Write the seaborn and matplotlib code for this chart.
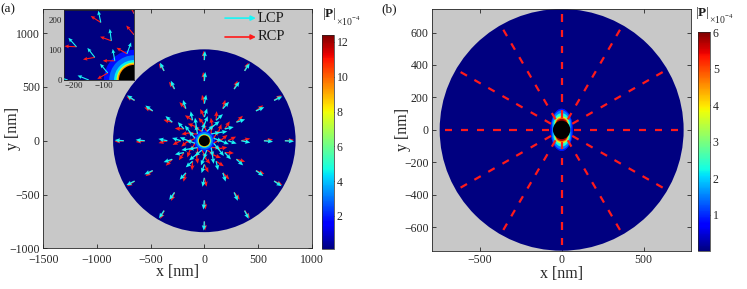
import numpy as np
import matplotlib
matplotlib.use("Agg")
import matplotlib.pyplot as plt
import seaborn as sns
from matplotlib.patches import Circle, Ellipse
from matplotlib.colors import Normalize
from matplotlib.cm import ScalarMappable
from matplotlib.collections import LineCollection

sns.set_style("ticks")
plt.rcParams['font.family'] = ['Liberation Serif', 'DejaVu Serif']
plt.rcParams['mathtext.fontset'] = 'custom'
plt.rcParams['mathtext.rm'] = 'Liberation Serif'
plt.rcParams['mathtext.bf'] = 'Liberation Serif:bold'

# ---------------- data ----------------
# panel (a): |P| field (x1e-4) as concentric rings around the particle
a_domain_radius = 850
a_particle_radius = 50
a_ring_radius = [100, 82, 66, 58, 54]
a_ring_value = [1.8, 3.0, 4.5, 7.5, 9.5]
a_vmin, a_vmax = 0.1, 12.4
a_cbar_ticks = [2, 4, 6, 8, 10, 12]

# panel (a): polarization arrows on rings (angles in deg, tilts rel. to radial)
a_angles = [0, 30, 60, 90, 120, 150, 180, 210, 240, 270, 300, 330]
a_arrow_radius = [90, 150, 220, 345, 555, 750]
a_arrow_phase = [15, 0, 0, 0, 0, 0]
a_lcp_tilt = [-35, -22, -18, -12, -6, -4]
a_rcp_tilt = [45, 40, 27, 15, 8, 5]
a_arrow_len = 85
inset_arrow_len = 40

# panel (b): |P| field (x1e-4) as nested caps around the particle
b_domain_radius = 745
b_particle_rx, b_particle_ry = 53, 57
b_halo_value = [0.9, 1.5, 2.3, 3.6, 4.8, 5.8]
b_halo_cy = [0, 25, 35, 40, 40, 40]
b_halo_rx = [68, 60, 50, 42, 38, 33]
b_halo_ry = [130, 95, 68, 45, 35, 28]
b_vmin, b_vmax = 0.02, 6.0
b_cbar_ticks = [1, 2, 3, 4, 5, 6]

# panel (b): RCP arrows along spokes
b_angles = [0, 30, 60, 90, 120, 150, 180, 210, 240, 270, 300, 330]
b_arrow_radius = [97, 196, 298, 395, 495, 593, 690]
b_arrow_len = 45

cmap = plt.get_cmap('jet')
bg = '#c8c8c8'
frame = '#262626'
cyan = '#19f5f5'
red = '#ff1a1a'


def ring_arrows(radii, phases, tilts, length):
    x, y, u, v = [], [], [], []
    for r, ph, t in zip(radii, phases, tilts):
        for a in a_angles:
            th = np.deg2rad(a + ph)
            d = th + np.deg2rad(t)
            x.append(r * np.cos(th))
            y.append(r * np.sin(th))
            u.append(length * np.cos(d))
            v.append(length * np.sin(d))
    return x, y, u, v


def draw_field_a(ax, norm):
    ax.add_patch(Circle((0, 0), a_domain_radius, color=cmap(norm(a_vmin)), lw=0, zorder=1))
    for r, val in zip(a_ring_radius, a_ring_value):
        ax.add_patch(Circle((0, 0), r, color=cmap(norm(val)), lw=0, zorder=2))
    ax.add_patch(Circle((0, 0), a_particle_radius, color='black', lw=0, zorder=3))


def draw_arrows_a(ax, length, lw, head):
    xl, yl, ul, vl = ring_arrows(a_arrow_radius, a_arrow_phase, a_lcp_tilt, length)
    xr, yr, ur, vr = ring_arrows(a_arrow_radius, a_arrow_phase, a_rcp_tilt, length)
    kw = dict(angles='xy', scale_units='xy', scale=1, units='dots', width=lw,
              headwidth=head, headlength=head + 0.5, headaxislength=head, zorder=5)
    ax.quiver(xr, yr, ur, vr, color=red, **kw)
    ax.quiver(xl, yl, ul, vl, color=cyan, **kw)


def style_axes(ax, fs=8.5):
    ax.set_facecolor(bg)
    for s in ax.spines.values():
        s.set_color(frame)
        s.set_linewidth(0.6)
    ax.tick_params(direction='in', length=3, width=0.6, colors=frame, labelsize=fs,
                   top=True, right=True, pad=2.5)


fig = plt.figure(figsize=(7.47, 2.89), dpi=100)

# ---------------- panel (a) ----------------
norm_a = Normalize(a_vmin, a_vmax)
ax1 = fig.add_axes([43.3 / 747, 1 - 248.3 / 289, 268.4 / 747, 239.3 / 289])
style_axes(ax1)
draw_field_a(ax1, norm_a)
draw_arrows_a(ax1, a_arrow_len, 1.3, 3.5)
ax1.set_xlim(-1500, 1000)
ax1.set_ylim(-1000, 1225)
ax1.set_xticks([-1500, -1000, -500, 0, 500, 1000])
ax1.set_yticks([-1000, -500, 0, 500, 1000])
ax1.tick_params(axis='x', pad=4)
ax1.set_xlabel('x [nm]', fontsize=11.5, color=frame, va='center')
ax1.set_ylabel('y [nm]', fontsize=11.5, color=frame, va='center')
ax1.xaxis.set_label_coords(0.5, -0.1)
ax1.yaxis.set_label_coords(-0.112, 0.5)

# legend drawn as arrows with text
for yy, col, lab in [(0.962, cyan, 'LCP'), (0.883, red, 'RCP')]:
    ax1.annotate('', xy=(0.792, yy), xytext=(0.677, yy), xycoords='axes fraction',
                 arrowprops=dict(arrowstyle='-|>', color=col, lw=1.2, mutation_scale=7,
                                 shrinkA=0, shrinkB=0), zorder=6)
    ax1.text(0.800, yy, lab, transform=ax1.transAxes, fontsize=10.5, va='center',
             ha='left', color='#1a1a1a', zorder=6)

# inset
axi = fig.add_axes([64 / 747, 1 - 80 / 289, 70 / 747, 70 / 289])
style_axes(axi, fs=6.5)
draw_field_a(axi, norm_a)
draw_arrows_a(axi, inset_arrow_len, 1.1, 3.5)
axi.set_xlim(-232, 0)
axi.set_ylim(0, 232)
axi.set_xticks([-200, -100])
axi.set_yticks([0, 100, 200])
axi.tick_params(top=False, right=False, pad=1.5)

# colorbar (a)
cax1 = fig.add_axes([322 / 747, 1 - 249 / 289, 12 / 747, 214 / 289])
cb1 = fig.colorbar(ScalarMappable(norm_a, cmap), cax=cax1)
cb1.set_ticks(a_cbar_ticks)
cb1.outline.set_linewidth(0.5)
cb1.ax.tick_params(direction='in', length=2, width=0.5, labelsize=8.5, colors=frame, pad=2)
fig.text(322 / 747, 1 - 14 / 289, r'|$\mathbf{P}$|', fontsize=9.5, ha='left', va='center', color='#1a1a1a')
fig.text(336 / 747, 1 - 21 / 289, r'$\times$10$^{-4}$', fontsize=7, ha='left', va='center', color=frame)

# ---------------- panel (b) ----------------
norm_b = Normalize(b_vmin, b_vmax)
ax2 = fig.add_axes([432.3 / 747, 1 - 250.7 / 289, 258.7 / 747, 241.7 / 289])
style_axes(ax2)
ax2.add_patch(Circle((0, 0), b_domain_radius, color=cmap(norm_b(b_vmin)), lw=0, zorder=1))
for val, cy, rx, ry in zip(b_halo_value, b_halo_cy, b_halo_rx, b_halo_ry):
    for sgn in (1, -1):
        ax2.add_patch(Ellipse((0, sgn * cy), 2 * rx, 2 * ry, color=cmap(norm_b(val)), lw=0, zorder=2))
ax2.add_patch(Ellipse((0, 0), 2 * b_particle_rx, 2 * b_particle_ry, color='black', lw=0, zorder=3))

# short radial RCP arrows (heads too small to see) as segments
segs = []
for a in b_angles:
    th = np.deg2rad(a)
    for r in b_arrow_radius:
        r0, r1 = r - b_arrow_len / 2, r + b_arrow_len / 2
        segs.append([(r0 * np.cos(th), r0 * np.sin(th)), (r1 * np.cos(th), r1 * np.sin(th))])
ax2.add_collection(LineCollection(segs, colors=red, linewidths=1.6, capstyle='butt', zorder=5))
ax2.set_xlim(-790, 790)
ax2.set_ylim(-745, 745)
ax2.set_xticks([-500, 0, 500])
ax2.set_yticks([-600, -400, -200, 0, 200, 400, 600])
ax2.set_xlabel('x [nm]', fontsize=11.5, color=frame, va='center')
ax2.set_ylabel('y [nm]', fontsize=11.5, color=frame, va='center')
ax2.xaxis.set_label_coords(0.5, -0.095)
ax2.yaxis.set_label_coords(-0.113, 0.5)

# colorbar (b)
cax2 = fig.add_axes([698 / 747, 1 - 250.7 / 289, 12 / 747, 218.4 / 289])
cb2 = fig.colorbar(ScalarMappable(norm_b, cmap), cax=cax2)
cb2.set_ticks(b_cbar_ticks)
cb2.outline.set_linewidth(0.5)
cb2.ax.tick_params(direction='in', length=2, width=0.5, labelsize=8.5, colors=frame, pad=2)
fig.text(695 / 747, 1 - 13 / 289, r'|$\mathbf{P}$|', fontsize=9.5, ha='left', va='center', color='#1a1a1a')
fig.text(709 / 747, 1 - 19 / 289, r'$\times$10$^{-4}$', fontsize=7, ha='left', va='center', color=frame)

# panel labels
fig.text(0.0, 1 - 9 / 289, '(a)', fontsize=9.5, va='center', ha='left', color='#1a1a1a')
fig.text(381 / 747, 1 - 9 / 289, '(b)', fontsize=9.5, va='center', ha='left', color='#1a1a1a')

fig.savefig('out.png', dpi=100)
